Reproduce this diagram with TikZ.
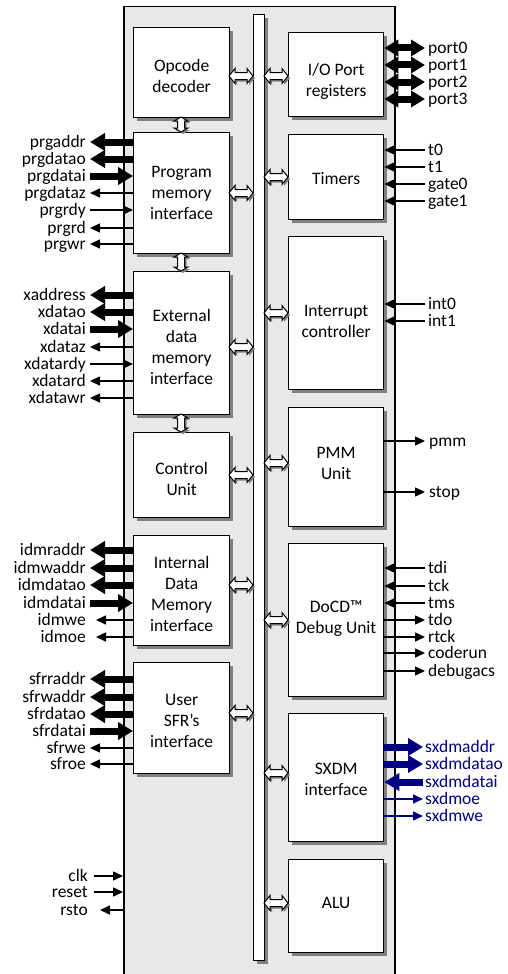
\documentclass[tikz,border=0pt]{standalone}
\usepackage{fontspec}
\setmainfont{Carlito}
\usetikzlibrary{arrows.meta,shadows}
\definecolor{boxgray}{RGB}{232,232,232}
\definecolor{navy}{RGB}{0,0,128}
\definecolor{shadgray}{RGB}{128,128,128}
\begin{document}
\begin{tikzpicture}[x=1pt,y=-1pt,font=\fontsize{17.5}{21}\selectfont,
  shad/.style={drop shadow={shadow xshift=3pt,shadow yshift=-3pt,fill=shadgray,opacity=1}},
  blk/.style={draw=black,line width=1.3pt,fill=white,inner sep=0pt,shad,anchor=north west},
  lblk/.style={blk,minimum width=96pt},
  rblk/.style={blk,minimum width=95pt},
  btxt/.style={align=center,inner sep=0pt},
  llbl/.style={anchor=east,inner xsep=4pt,inner ysep=0pt,text height=11pt,text depth=0pt},
  rlbl/.style={anchor=west,inner xsep=3pt,inner ysep=0pt,text height=11pt,text depth=0pt},
  bo/.style={line width=7pt,-{Triangle[length=15pt,width=17pt]}},
  bi/.style={line width=7pt,{Triangle[length=15pt,width=17pt]}-},
  bb/.style={line width=7pt,{Triangle[length=14pt,width=16pt]}-{Triangle[length=14pt,width=16pt]}},
  so/.style={line width=1.5pt,-{Triangle[length=10pt,width=9pt]}},
  si/.style={line width=1.5pt,{Triangle[length=10pt,width=9pt]}-},
  pics/hbus/.style={code={
    \fill[shadgray] (2,2) -- (8,-5) -- (8,-1.5) -- (20,-1.5) -- (20,-5) -- (26,2) -- (20,9) -- (20,5.5) -- (8,5.5) -- (8,9) -- cycle;
    \draw[fill=white,line width=1pt] (0,0) -- (6,-7.5) -- (6,-3.5) -- (18,-3.5) -- (18,-7.5) -- (24,0) -- (18,7.5) -- (18,3.5) -- (6,3.5) -- (6,7.5) -- cycle;
  }},
  pics/vbus/.style={code={
    \fill[shadgray] (2,2) -- (-5,6) -- (-1.5,6) -- (-1.5,#1-2) -- (-5,#1-2) -- (2,#1+2) -- (9,#1-2) -- (5.5,#1-2) -- (5.5,6) -- (9,6) -- cycle;
    \draw[fill=white,line width=1pt] (0,0) -- (-7,4) -- (-3.5,4) -- (-3.5,#1-4) -- (-7,#1-4) -- (0,#1) -- (7,#1-4) -- (3.5,#1-4) -- (3.5,4) -- (7,4) -- cycle;
  }}
]
\useasboundingbox (0,0) rectangle (508,974);

% core box
\node[draw=black,fill=boxgray,line width=1.5pt,anchor=north west,minimum width=271pt,minimum height=976pt,inner sep=0pt] (core) at (123,6) {};
% internal bus
\node[draw=black,fill=white,line width=1.2pt,anchor=north west,minimum width=11pt,minimum height=946pt,inner sep=0pt,shad] (bus) at (253,14) {};

% left blocks
\node[lblk,minimum height=90pt] (op) at (133,27) {};
\node[lblk,minimum height=121pt] (pmi) at (133,132) {};
\node[lblk,minimum height=143pt] (xmi) at (133,271) {};
\node[lblk,minimum height=85pt] (cu) at (133,432) {};
\node[lblk,minimum height=110pt] (idm) at (133,535) {};
\node[lblk,minimum height=111pt] (sfr) at (133,662) {};
\node[btxt] (op-t) at ([yshift=-3pt]op.center) {Opcode\\decoder};
\node[btxt] (pmi-t) at (pmi.center) {Program\\memory\\interface};
\node[btxt] (xmi-t) at ([yshift=-4pt]xmi.center) {External\\data\\memory\\interface};
\node[btxt] (cu-t) at ([yshift=-4pt]cu.center) {Control\\Unit};
\node[btxt] (idm-t) at ([yshift=-3pt]idm.center) {Internal\\Data\\Memory\\interface};
\node[btxt] (sfr-t) at ([yshift=-3pt]sfr.center) {User\\SFR’s\\interface};

% right blocks
\node[rblk,minimum height=84pt] (io) at (288,32) {};
\node[rblk,minimum height=85pt] (tim) at (288,134) {};
\node[rblk,minimum height=153pt] (irq) at (288,236) {};
\node[rblk,minimum height=119pt] (pmm) at (288,407) {};
\node[rblk,minimum height=153pt] (ocd) at (288,543) {};
\node[rblk,minimum height=128pt] (sxdm) at (288,713) {};
\node[rblk,minimum height=93pt] (alu) at (288,859) {};
\node[btxt] (io-t) at ([yshift=-7pt]io.center) {I/O Port\\registers};
\node[btxt] (tim-t) at ([yshift=-1pt]tim.center) {Timers};
\node[btxt] (irq-t) at ([yshift=-8pt]irq.center) {Interrupt\\controller};
\node[btxt] (pmm-t) at ([yshift=4pt]pmm.center) {PMM\\Unit};
\node[btxt] (ocd-t) at ([yshift=2pt]ocd.center) {DoCD™\\Debug Unit};
\node[btxt] (sxdm-t) at ([yshift=-2pt]sxdm.center) {SXDM\\interface};
\node[btxt] (alu-t) at ([yshift=3pt]alu.center) {ALU};

% bus connectors
\foreach \y in {76,193,347,475,585,713} \pic at (229,\y) {hbus};
\foreach \y in {76,177,313,463,620,773,903} \pic at (264,\y) {hbus};
\pic at (181,117) {vbus=15};
\pic at (181,253) {vbus=18};
\pic at (181,414) {vbus=18};

% program memory signals
\foreach \t/\y/\k in {prgaddr/142/bo,prgdatao/159/bo,prgdatai/176/bi,prgdataz/193/so,prgrdy/210/si,prgrd/228/so,prgwr/244/so}{
  \node[llbl] (l-\t) at (90,\y) {\t};
  \draw[\k] (pmi.west |- l-\t.east) -- (l-\t.east);
}
% external data memory signals
\foreach \t/\y/\k in {xaddress/295/bo,xdatao/312/bo,xdatai/329/bi,xdataz/347/so,xdatardy/364/si,xdatard/381/so,xdatawr/398/so}{
  \node[llbl] (l-\t) at (90,\y) {\t};
  \draw[\k] (xmi.west |- l-\t.east) -- (l-\t.east);
}
% internal data memory signals
\foreach \t/\y/\k in {idmraddr/550/bo,idmwaddr/568/bo,idmdatao/585/bo,idmdatai/603/bi}{
  \node[llbl] (l-\t) at (90,\y) {\t};
  \draw[\k] (idm.west |- l-\t.east) -- (l-\t.east);
}
\foreach \t/\y in {idmwe/620,idmoe/637}{
  \node[llbl] (l-\t) at (90,\y) {\t};
  \draw[so,shorten >=6pt] (idm.west |- l-\t.east) -- (l-\t.east);
}
% sfr signals
\foreach \t/\y/\k in {sfrraddr/679/bo,sfrwaddr/697/bo,sfrdatao/714/bo,sfrdatai/731/bi,sfrwe/748/so,sfroe/764/so}{
  \node[llbl] (l-\t) at (90,\y) {\t};
  \draw[\k] (sfr.west |- l-\t.east) -- (l-\t.east);
}
% clock / reset
\foreach \t/\y in {clk/876,reset/892}{
  \node[llbl,inner xsep=6pt] (l-\t) at (94,\y) {\t};
  \draw[si] (core.west |- l-\t.east) -- (l-\t.east);
}
\node[llbl,inner xsep=6pt] (l-rsto) at (94,910) {rsto};
\draw[so,shorten >=6pt] (core.west |- l-rsto.east) -- (l-rsto.east);

% ports
\foreach \t/\y in {port0/48,port1/65,port2/82,port3/99}{
  \node[rlbl] (r-\t) at (425,\y) {\t};
  \draw[bb] (io.east |- r-\t.west) -- (r-\t.west);
}
% timers
\foreach \t/\y in {t0/150,t1/167,gate0/184,gate1/201}{
  \node[rlbl] (r-\t) at (425,\y) {\t};
  \draw[si] (tim.east |- r-\t.west) -- (r-\t.west);
}
% interrupts
\foreach \t/\y in {int0/304,int1/321}{
  \node[rlbl] (r-\t) at (425,\y) {\t};
  \draw[si] (irq.east |- r-\t.west) -- (r-\t.west);
}
% pmm
\foreach \t/\y in {pmm/441,stop/492}{
  \node[rlbl,inner xsep=4pt] (r-\t) at (425,\y) {\t};
  \draw[so] (pmm.east |- r-\t.west) -- (r-\t.west);
}
% debug
\foreach \t/\y/\k in {tdi/568/si,tck/586/si,tms/603/si,tdo/620/so,rtck/637/so,coderun/653/so,debugacs/671/so}{
  \node[rlbl] (r-\t) at (425,\y) {\t};
  \draw[\k] (ocd.east |- r-\t.west) -- (r-\t.west);
}
% sxdm
\foreach \t/\y/\k in {sxdmaddr/747/bo,sxdmdatao/764/bo,sxdmdatai/782/bi,sxdmoe/799/so,sxdmwe/816/so}{
  \node[rlbl,text=navy,inner xsep=2pt] (r-\t) at (423,\y) {\t};
  \draw[\k,draw=navy,fill=navy] (sxdm.east |- r-\t.west) -- (r-\t.west);
}
\end{tikzpicture}
\end{document}
